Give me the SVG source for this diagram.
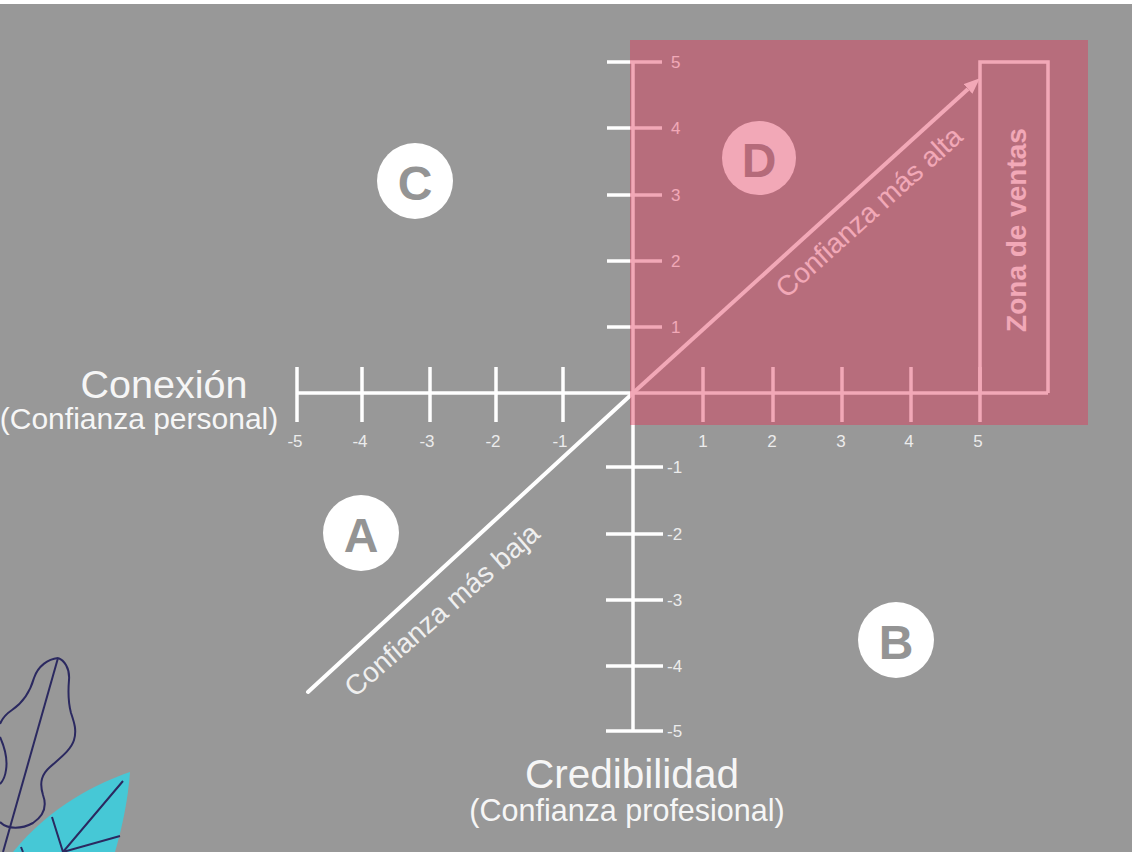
<svg xmlns="http://www.w3.org/2000/svg" width="1132" height="852" viewBox="0 0 1132 852">
  <defs>
    <style>
      .ln{stroke:#fff;stroke-width:3.5;fill:none}
      .diag{stroke:#fff;stroke-width:4;fill:none;stroke-linecap:round}
      .num{font-family:"Liberation Sans",Arial,sans-serif;font-size:17px;fill:#ececec}
      .numv{font-family:"Liberation Sans",Arial,sans-serif;font-size:17px;fill:#ffffff}
      .ttl{font-family:"Liberation Sans",Arial,sans-serif;fill:#f6f6f6;text-anchor:middle}
      .badge circle{fill:#ffffff}
      .badge text{font-family:"Liberation Sans",Arial,sans-serif;font-weight:bold;font-size:48px;fill:#949494;text-anchor:middle;dominant-baseline:central}
      .diagtxt{font-family:"Liberation Sans",Arial,sans-serif;font-size:28px;text-anchor:middle;dominant-baseline:central}
      .leaf{fill:none;stroke:#2b2960;stroke-width:2}
    </style>
    <marker id="arrow" viewBox="0 0 16 13" refX="0" refY="6.5" markerWidth="16" markerHeight="13" markerUnits="userSpaceOnUse" orient="auto">
      <path d="M0,0 L16,6.5 L0,13 Z" fill="#fff"/>
    </marker>
  </defs>

  <!-- background -->
  <rect x="0" y="0" width="1132" height="852" fill="#989898"/>
  <rect x="0" y="0" width="1132" height="4" fill="#ffffff"/>

  <!-- connectors: axes, ticks, diagonals -->
  <g id="connectors">
    <!-- horizontal axis (Conexión) -->
    <line class="ln" x1="297" y1="393" x2="1048" y2="393"/>
    <!-- vertical axis (Credibilidad) -->
    <line class="ln" x1="633" y1="62" x2="633" y2="731"/>
    <!-- horizontal ticks -->
    <g class="ln">
      <line x1="297" y1="367" x2="297" y2="422"/>
      <line x1="362" y1="367" x2="362" y2="422"/>
      <line x1="430" y1="367" x2="430" y2="422"/>
      <line x1="496" y1="367" x2="496" y2="422"/>
      <line x1="563" y1="367" x2="563" y2="422"/>
      <line x1="703" y1="367" x2="703" y2="422"/>
      <line x1="773" y1="367" x2="773" y2="422"/>
      <line x1="842" y1="367" x2="842" y2="422"/>
      <line x1="911" y1="367" x2="911" y2="422"/>
      <line x1="980" y1="367" x2="980" y2="422"/>
    </g>
    <!-- vertical ticks -->
    <g class="ln">
      <line x1="607" y1="62" x2="662" y2="62"/>
      <line x1="607" y1="128" x2="662" y2="128"/>
      <line x1="607" y1="195" x2="662" y2="195"/>
      <line x1="607" y1="261" x2="662" y2="261"/>
      <line x1="607" y1="327" x2="662" y2="327"/>
      <line x1="606" y1="467" x2="663" y2="467"/>
      <line x1="606" y1="534" x2="663" y2="534"/>
      <line x1="606" y1="600" x2="663" y2="600"/>
      <line x1="606" y1="666" x2="663" y2="666"/>
      <line x1="606" y1="731" x2="663" y2="731"/>
    </g>
    <!-- sales zone frame -->
    <path class="ln" d="M980,393 L980,62 L1048,62 L1048,393"/>
    <!-- lowest trust diagonal -->
    <line class="diag" x1="633" y1="393" x2="308" y2="692"/>
    <!-- highest trust diagonal with arrow -->
    <line class="diag" x1="633" y1="393" x2="968" y2="89" style="stroke-linecap:butt" marker-end="url(#arrow)"/>
  </g>

  <!-- tick numbers -->
  <g id="scale-x" class="num" text-anchor="middle">
    <text x="295" y="447">-5</text>
    <text x="360" y="447">-4</text>
    <text x="427" y="447">-3</text>
    <text x="493" y="447">-2</text>
    <text x="560" y="447">-1</text>
    <text x="703" y="447">1</text>
    <text x="772" y="447">2</text>
    <text x="841" y="447">3</text>
    <text x="909" y="447">4</text>
    <text x="978" y="447">5</text>
  </g>
  <g id="scale-y">
    <text class="numv" x="671" y="68">5</text>
    <text class="numv" x="671" y="134">4</text>
    <text class="numv" x="671" y="201">3</text>
    <text class="numv" x="671" y="267">2</text>
    <text class="numv" x="671" y="333">1</text>
    <text class="num" x="667" y="473">-1</text>
    <text class="num" x="667" y="540">-2</text>
    <text class="num" x="667" y="606">-3</text>
    <text class="num" x="667" y="672">-4</text>
    <text class="num" x="667" y="737">-5</text>
  </g>

  <!-- diagonal labels -->
  <text id="label-alta" class="diagtxt" fill="#ffffff" transform="translate(869,212) rotate(-42)">Confianza más alta</text>
  <text id="label-baja" class="diagtxt" fill="#efefef" transform="translate(442,610) rotate(-41)">Confianza más baja</text>
  <text id="label-zona" class="diagtxt" fill="#ffffff" font-weight="bold" font-size="30" transform="translate(1016,230) rotate(-90)">Zona de ventas</text>

  <!-- quadrant badges -->
  <g id="node-a" class="badge"><circle cx="361" cy="533" r="38"/><text x="361" y="535">A</text></g>
  <g id="node-b" class="badge"><circle cx="896" cy="640" r="38"/><text x="896" y="642">B</text></g>
  <g id="node-c" class="badge"><circle cx="415" cy="181" r="38"/><text x="415" y="183">C</text></g>
  <g id="node-d" class="badge"><circle cx="759" cy="158" r="37"/><text x="759" y="160">D</text></g>

  <!-- axis titles -->
  <g id="title-x" class="ttl">
    <text x="164" y="398" font-size="39.5">Conexión</text>
    <text x="139" y="429" font-size="30">(Confianza personal)</text>
  </g>
  <g id="title-y" class="ttl">
    <text x="632" y="788" font-size="40.5">Credibilidad</text>
    <text x="627" y="821" font-size="30.5">(Confianza profesional)</text>
  </g>

  <!-- highlighted quadrant D -->
  <rect id="zone-d" x="630" y="40" width="458" height="385" fill="rgb(224,54,87)" opacity="0.43"/>

  <!-- decorative leaves -->
  <g id="leaves">
    <path d="M130,772 C100,782 50,806 13,852 L115,852 C122,828 128,800 130,772 Z" fill="#46c8d6"/>
    <path class="leaf" d="M63,852 L123,781 M63,852 L120,836 M63,852 L52,817 M21,847 L23,852"/>
    <path class="leaf" d="M58,658 C64,660 70,668 69,680 C68,692 68,702 71,713 C74,722 77,730 74,740 C71,750 60,758 50,767 C42,774 39,782 43,795 C47,806 45,815 33,823 C22,829 8,830 0,822"/>
    <path class="leaf" d="M58,658 C48,659 38,666 34,678 C30,692 24,702 12,710 C6,714 2,719 0,724"/>
    <path class="leaf" d="M0,737 C4,746 8,758 6,770 C5,778 2,782 0,784"/>
    <path class="leaf" d="M58,658 L3,852"/>
  </g>
</svg>
